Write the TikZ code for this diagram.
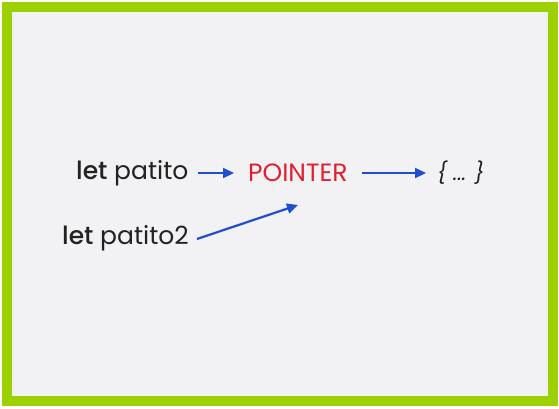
\documentclass[tikz,border=0pt]{standalone}
\usepackage{fontspec}
\setmainfont{Poppins}
\newfontfamily\medfont{Poppins Medium}
\usetikzlibrary{arrows.meta}
\definecolor{framegreen}{HTML}{9CD000}
\definecolor{paper}{HTML}{F2F2F4}
\definecolor{ptrblue}{HTML}{1F4FCC}
\definecolor{ptrred}{HTML}{E0202E}
\definecolor{ink}{HTML}{222222}
\tikzset{>={Stealth[length=11pt,width=10pt,inset=0pt]}}
\tikzset{word/.style={inner sep=0pt, text=ink, font=\fontsize{25}{30}\selectfont},
         link/.style={->, ptrblue, line width=2.2pt}}

\begin{document}
\begin{tikzpicture}[x=1pt,y=-1pt]
      \useasboundingbox (0,0) rectangle (559,408);
      \draw[framegreen, line width=10pt, fill=paper] (7,7) rectangle (553,401);
      \node [word, anchor=west] (patito) at (76,173) {{\medfont let} patito};
      \node [word, anchor=west, text=ptrred] (ptr) at (248,173) {POINTER};
      \node [word, anchor=west, font=\fontsize{21}{25}\selectfont\itshape] (obj) at (437,173) {\{ ... \}};
      \node [word, anchor=west] (patito2) at (62,238) {{\medfont let} patito2};
      \coordinate (tip) at (298,205);
      \draw[link] ([xshift=9pt]patito.east) -- ([xshift=-14pt]ptr.west);
      \draw[link] ([xshift=14pt]ptr.east) -- ([xshift=-11pt]obj.west);
      \draw[link] ([xshift=8pt,yshift=-1pt]patito2.east) -- (tip);
    \end{tikzpicture}
\end{document}
